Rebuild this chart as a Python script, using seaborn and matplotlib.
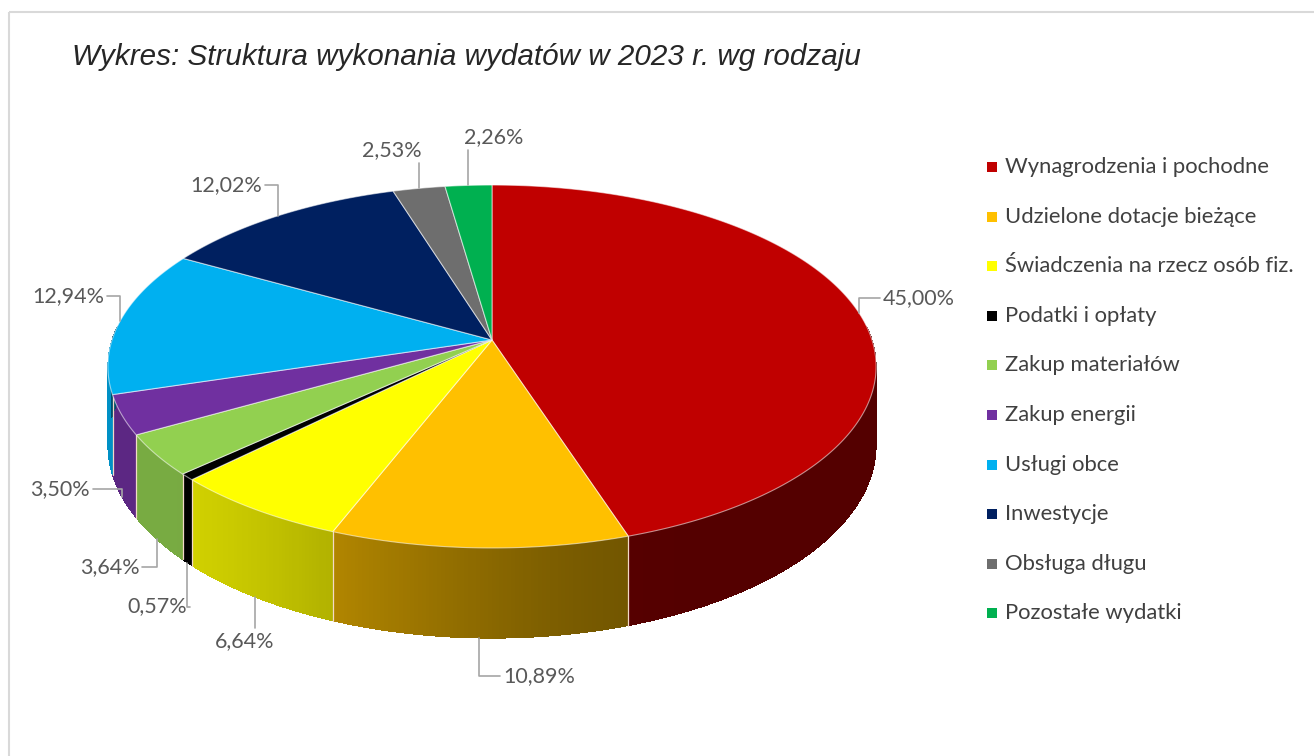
import numpy as np
import matplotlib.pyplot as plt
from matplotlib.patches import Polygon, Rectangle
import seaborn as sns

# data
categories = [
    "Wynagrodzenia i pochodne",
    "Udzielone dotacje bieżące",
    "Świadczenia na rzecz osób fiz.",
    "Podatki i opłaty",
    "Zakup materiałów",
    "Zakup energii",
    "Usługi obce",
    "Inwestycje",
    "Obsługa długu",
    "Pozostałe wydatki",
]
shares = [45.00, 10.89, 6.64, 0.57, 3.64, 3.50, 12.94, 12.02, 2.53, 2.26]
colors = ["#C00000", "#FFC000", "#FFFF00", "#000000", "#92D050",
          "#7030A0", "#00B0F0", "#002060", "#6E6E6E", "#00B050"]
title = "Wykres: Struktura wykonania wydatów w 2023 r. wg rodzaju"

# label offsets (px) from the rim anchor to the text centre
label_offsets = [(60, -15), (60, 38), (-10, 44), (-30, 44), (-47, 28),
                 (-62, -8), (-52, -25), (-52, -31), (-27, -38), (25, -48)]

W, H = 1314, 756
CX, CY = 492, 340          # apex of the pie on screen
SX, SY = 380, 177.6        # projected radii
K = 0.146                  # perspective strength
DEPTH = 77                 # thickness of the disc

sns.set_theme(style="white")
plt.rcParams["font.family"] = ["Lato", "DejaVu Sans"]

fig = plt.figure(figsize=(W / 100, H / 100), dpi=100)
ax = fig.add_axes([0, 0, 1, 1])
ax.set_xlim(0, W)
ax.set_ylim(H, 0)
ax.axis("off")


def proj(t):
    X, Y = np.cos(t), np.sin(t)
    w = 1 + K * Y
    return CX + SX * X / w, CY - SY * Y / w, w


def shade(t):
    # darker on the right of the front wall, lighter on the left
    deg = np.degrees(np.arctan2(np.sin(t), np.cos(t)))
    s = np.clip((-deg - 65) / 75, 0, 1)
    s = s * s * (3 - 2 * s)
    return 0.44 + 0.38 * s


frac = np.array(shares) / sum(shares)
cum = np.concatenate([[0], np.cumsum(frac)])
t_start = np.pi / 2 - 2 * np.pi * cum[:-1]
t_end = np.pi / 2 - 2 * np.pi * cum[1:]

# side walls
for i in range(len(shares)):
    n = max(int(abs(t_end[i] - t_start[i]) / np.radians(0.5)), 2)
    ts = np.linspace(t_start[i], t_end[i], n + 1)
    ts = ts[np.sin(ts) < 0.08]
    if len(ts) < 2:
        continue
    base = np.array(sns.color_palette([colors[i]])[0])
    xs, ys, ws = proj(ts)
    # one solid underlay so the strips leave no seams
    under = list(zip(xs, ys)) + list(zip(xs[::-1], (ys + DEPTH / ws)[::-1]))
    ax.add_patch(Polygon(under, closed=True, facecolor=base * shade(ts.mean()),
                         edgecolor="none", zorder=1))
    for j in range(len(ts) - 1):
        c = base * shade(0.5 * (ts[j] + ts[j + 1]))
        quad = [(xs[j], ys[j]), (xs[j + 1], ys[j + 1]),
                (xs[j + 1], ys[j + 1] + DEPTH / ws[j + 1]), (xs[j], ys[j] + DEPTH / ws[j])]
        ax.add_patch(Polygon(quad, closed=True, facecolor=c, edgecolor="none",
                             antialiased=False, zorder=1.5))
    # boundary line on the wall
    if np.sin(t_start[i]) < 0:
        x0, y0, w0 = proj(t_start[i])
        ax.plot([x0, x0], [y0, y0 + DEPTH / w0], color="#f3d9c8", lw=0.9, zorder=2)

# top faces
for i in range(len(shares)):
    ts = np.linspace(t_start[i], t_end[i], 200)
    xs, ys, _ = proj(ts)
    pts = [(CX, CY)] + list(zip(xs, ys))
    ax.add_patch(Polygon(pts, closed=True, facecolor=colors[i],
                         edgecolor=(1, 1, 1, 0.55), lw=0.8, zorder=3))

# percentage labels with leader lines
fig.canvas.draw()
renderer = fig.canvas.get_renderer()
inv = ax.transData.inverted()
for i, v in enumerate(shares):
    mid = 0.5 * (t_start[i] + t_end[i])
    x, y, w = proj(mid)
    if np.sin(mid) < 0:
        y = y + DEPTH / w
    dx, dy = label_offsets[i]
    tx, ty = x + dx, y + dy
    txt = ax.text(tx, ty, f"{v:.2f}".replace(".", ",") + "%", ha="center", va="center",
                  fontsize=15.5, color="#595959", zorder=5)
    bb = txt.get_window_extent(renderer)
    (x0, y1), (x1, y0) = inv.transform([(bb.x0, bb.y0), (bb.x1, bb.y1)])
    half = (x1 - x0) / 2
    if abs(dx) < half:
        yend = y0 - 3 if dy > 0 else y1 + 3
        line = [(x, y), (x, yend)]
    else:
        xend = tx - half - 3 if dx > 0 else tx + half + 3
        line = [(x, y), (x, ty), (xend, ty)]
    lx, ly = zip(*line)
    ax.plot(lx, ly, color="#a6a6a6", lw=1.2, zorder=4)

# legend
for i, name in enumerate(categories):
    yy = 167 + i * 49.6
    ax.add_patch(Rectangle((987, yy - 5), 10, 10, facecolor=colors[i], edgecolor="none", zorder=5))
    ax.text(1005, yy, name, ha="left", va="center", fontsize=15.8, color="#404040", zorder=5)

# title and frame
ax.text(72, 57, title, ha="left", va="center", fontsize=21.3, style="italic",
        color="#262626", family=["Liberation Sans", "DejaVu Sans"])
ax.add_patch(Rectangle((9, 12), W + 20, H + 20, facecolor="none", edgecolor="#d9d9d9", lw=1.5, zorder=0))

fig.savefig("out.png", dpi=100, facecolor="white")
